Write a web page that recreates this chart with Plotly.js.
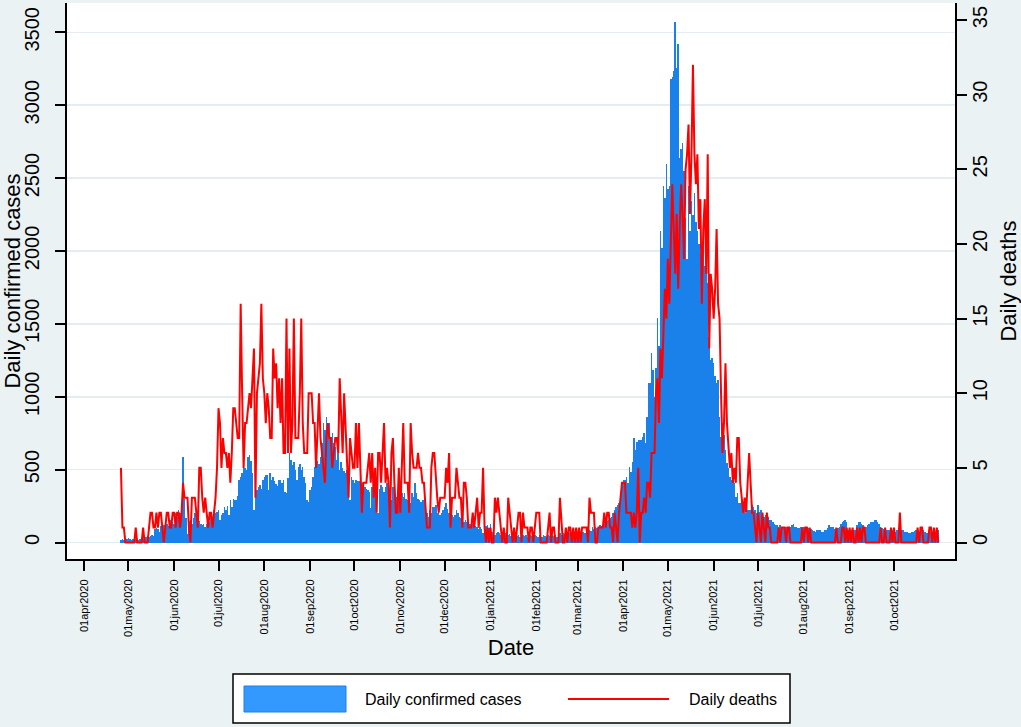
<!DOCTYPE html>
<html>
<head>
<meta charset="utf-8">
<script src="https://cdn.plot.ly/plotly-3.0.1.min.js"></script>
<style>
  html, body { margin: 0; padding: 0; background: rgb(234,242,243); }
  #chart { width: 1021px; height: 727px; }
</style>
</head>
<body>
<div id="chart"></div>
<script>
// ---------------- DATA (daily values, first day 26 Apr 2020) ----------------
const startDate = '2020-04-26';

const casesApr20 = [18,25,20,28,22];
const casesMay20 = [30,25,20,24,18,22,15,20,25,18,22,40,35,45,38,42,50,45,95,100,90,75,110,100,120,125,130,110,97,155,140];
const casesJun20 = [130,200,177,223,200,225,584,300,165,60,150,155,130,165,200,155,130,150,130,120,130,107,130,155,143,200,177,223,200,210];
const casesJul20 = [223,155,190,200,245,225,250,190,290,245,300,290,290,320,430,450,475,520,510,500,590,600,560,475,223,430,360,380,395,370,430];
const casesAug20 = [450,460,460,360,475,430,450,420,400,385,430,430,405,430,350,340,440,612,565,530,550,500,430,520,540,500,515,450,405,290,280];
const casesSep20 = [360,383,450,520,635,560,540,590,680,818,772,863,795,818,726,750,680,658,565,612,500,555,510,490,480,500,475,290,450,430];
const casesOct20 = [405,430,425,420,383,405,360,383,370,360,350,235,380,360,340,326,200,370,395,383,350,380,405,350,310,290,383,360,315,290,325];
const casesNov20 = [300,340,315,340,300,290,270,270,340,315,405,340,300,290,280,290,290,223,200,177,223,200,245,245,255,200,223,190,200,223];
const casesDec20 = [245,270,230,200,177,190,177,190,220,200,177,165,177,140,154,140,130,130,140,130,130,110,107,96,107,96,63,85,110,120,100];
const casesJan21 = [130,73,62,50,62,73,62,50,62,73,62,55,50,60,45,55,50,62,45,50,40,55,50,45,50,40,55,50,45,40,50];
const casesFeb21 = [45,40,50,45,40,50,45,40,50,45,40,50,45,50,40,55,62,50,62,60,73,62,62,73,62,73,62,62];
const casesMar21 = [73,62,73,70,73,62,73,73,85,80,108,95,108,100,107,120,115,120,125,130,150,155,165,177,200,220,245,255,270,290,405];
const casesApr21 = [430,430,450,405,520,485,555,714,635,690,700,700,700,725,750,680,864,1093,1093,1300,1185,1000,1200,1540,1345,2137,2022,2445,2365,2595];
const casesMay21 = [2423,2445,3178,3190,3236,3568,3258,3419,2641,2700,2743,2549,2228,1942,2445,2137,2343,2250,2400,2200,2137,2045,1976,1885,2100,1900,2050,1780,1410,1253,1265];
const casesJun21 = [1230,1140,1095,1115,864,725,818,738,635,543,510,452,430,430,405,315,338,270,270,315,235,245,200,223,223,223,257,245,223,200];
const casesJul21 = [257,210,223,200,177,190,154,177,155,154,143,130,120,120,108,120,108,108,108,108,97,97,108,120,130,108,108,97,97,108,108];
const casesAug21 = [108,108,108,97,97,90,85,80,75,85,85,85,75,75,85,85,100,120,108,108,108,95,85,100,108,130,143,150,155,140,85];
const casesSep21 = [85,85,85,85,85,120,143,143,130,120,108,108,120,130,140,143,143,155,155,140,130,108,97,90,85,85,85,85,85,85];
const casesOct21 = [80,75,85,97,97,85,85,75,75,70,63,63,75,75,80,85,75,63,63,85,85,70,63,63,75,75,75,80,75,85,85];

const deathsApr20 = [5,1,1,0,0];
const deathsMay20 = [0,0,0,0,0,1,0,0,0,0,1,0,0,0,1,2,2,1,1,2,1,2,2,1,0,1,2,2,1,1,2];
const deathsJun20 = [2,1,2,2,1,2,4,3,3,3,1,0,3,3,3,2,1,5,5,3,2,3,2,1,2,2,1,2,3,5];
const deathsJul20 = [9,8,5,7,6,6,5,6,4,6,9,9,8,7,7,16,10,5,8,8,9,10,9,11,13,3,10,11,12,16,11];
const deathsAug20 = [10,8,10,9,7,7,13,11,12,9,11,8,11,6,6,15,6,13,6,8,15,7,7,7,10,15,8,6,6,6,10];
const deathsSep20 = [10,10,8,8,5,7,10,7,6,5,4,7,8,7,7,5,6,7,7,6,11,8,6,10,8,5,3,7,6,5];
const deathsOct20 = [5,8,5,8,5,2,4,4,4,5,6,4,6,3,5,2,6,6,4,6,8,4,5,4,1,6,7,4,2,2,5];
const deathsNov20 = [2,5,8,4,4,4,2,8,6,5,5,5,6,5,5,4,4,2,1,1,1,5,6,6,4,3,2,3,3,3];
const deathsDec20 = [3,5,4,6,1,3,3,3,5,4,3,3,1,4,4,3,1,1,1,2,1,2,3,1,2,2,5,1,0,1,0];
const deathsJan21 = [1,0,0,3,2,3,2,1,0,1,0,0,3,2,1,0,1,0,1,2,2,0,2,1,1,1,0,1,1,0,1];
const deathsFeb21 = [2,2,2,0,0,0,0,0,1,2,0,1,1,0,0,0,3,1,0,0,1,0,1,1,0,1,0,1];
const deathsMar21 = [0,1,0,1,1,1,1,0,3,2,2,2,0,0,1,1,1,1,2,1,2,2,1,1,0,2,1,0,2,3,4];
const deathsApr21 = [4,4,2,2,2,2,1,2,1,2,5,0,2,2,3,2,4,4,3,6,6,6,10,11,8,13,11,14,17,15];
const deathsMay21 = [19,16,20,24,21,18,22,17,21,24,22,19,25,26,28,22,26,32,26,24,26,21,23,16,21,23,18,26,13,18,17];
const deathsJun21 = [15,17,21,16,15,10,6,8,12,8,6,5,6,4,5,4,7,7,4,3,2,3,2,4,6,4,2,2,1,0];
const deathsJul21 = [2,1,0,2,1,0,2,1,1,0,0,0,0,0,1,0,1,1,1,0,1,1,0,0,0,0,0,0,0,0,1];
const deathsAug21 = [0,1,1,0,1,0,0,0,0,0,0,0,0,0,0,0,0,0,0,0,0,0,1,0,0,0,1,1,0,1,0];
const deathsSep21 = [1,0,1,0,0,1,0,1,0,1,1,0,0,0,0,0,0,0,0,0,0,1,0,0,1,0,0,0,1,0];
const deathsOct21 = [1,0,0,0,2,0,0,0,0,0,0,0,0,0,0,0,1,0,1,1,0,0,0,0,1,1,0,1,0,1,0];

const xTickVals = ['2020-04-01','2020-05-01','2020-06-01','2020-07-01','2020-08-01','2020-09-01','2020-10-01','2020-11-01','2020-12-01',
  '2021-01-01','2021-02-01','2021-03-01','2021-04-01','2021-05-01','2021-06-01','2021-07-01','2021-08-01','2021-09-01','2021-10-01'];
const xTickText = ['01apr2020','01may2020','01jun2020','01jul2020','01aug2020','01sep2020','01oct2020','01nov2020','01dec2020',
  '01jan2021','01feb2021','01mar2021','01apr2021','01may2021','01jun2021','01jul2021','01aug2021','01sep2021','01oct2021'];
const yTickVals = [0,500,1000,1500,2000,2500,3000,3500];
const y2TickVals = [0,5,10,15,20,25,30,35];

const seriesNames = ['Daily confirmed cases', 'Daily deaths'];
const axisTitles = {x: 'Date', y: 'Daily confirmed cases', y2: 'Daily deaths'};

// ---------------- BUILD ----------------
const cases = [].concat(casesApr20,casesMay20,casesJun20,casesJul20,casesAug20,casesSep20,casesOct20,casesNov20,casesDec20,
  casesJan21,casesFeb21,casesMar21,casesApr21,casesMay21,casesJun21,casesJul21,casesAug21,casesSep21,casesOct21);
const deaths = [].concat(deathsApr20,deathsMay20,deathsJun20,deathsJul20,deathsAug20,deathsSep20,deathsOct20,deathsNov20,deathsDec20,
  deathsJan21,deathsFeb21,deathsMar21,deathsApr21,deathsMay21,deathsJun21,deathsJul21,deathsAug21,deathsSep21,deathsOct21);

const dates = [];
{
  const p = startDate.split('-').map(Number);
  for (let i = 0; i < cases.length; i++) {
    const d = new Date(Date.UTC(p[0], p[1]-1, p[2] + i));
    dates.push(d.toISOString().slice(0,10));
  }
}

const W = 1021, H = 727;
const L = 67, R = 955, T = 3, B = 559;
const px = X => (X - L) / (R - L);
const py = Y => (B - Y) / (B - T);

const FONT = 'Liberation Sans, Arial, Helvetica, sans-serif';
const BLUE = '#1a80ea';
const RED = '#ff0000';

const traces = [
  {
    type: 'bar', x: dates, y: cases, name: seriesNames[0],
    marker: {color: BLUE, line: {width: 0}},
    hoverinfo: 'x+y', showlegend: false
  },
  {
    type: 'scatter', mode: 'lines', x: dates, y: deaths, name: seriesNames[1], yaxis: 'y2',
    line: {color: RED, width: 2}, showlegend: false
  }
];

const layout = {
  width: W, height: H,
  margin: {l: L, r: W - R, t: T, b: H - B, pad: 0},
  paper_bgcolor: 'rgb(234,242,243)',
  plot_bgcolor: '#ffffff',
  font: {family: FONT, color: '#000000'},
  bargap: 0,
  showlegend: false,
  xaxis: {
    type: 'date',
    range: ['2020-03-20 12:00', '2021-11-11 07:00'],
    tickmode: 'array', tickvals: xTickVals, ticktext: xTickText,
    tickangle: -90, tickfont: {size: 11, family: FONT, color: '#000'},
    ticks: 'outside', ticklen: 10, tickwidth: 2, tickcolor: '#000',
    ticklabelstandoff: 4,
    showline: true, linecolor: '#000', linewidth: 2,
    showgrid: false, zeroline: false, automargin: false,
    title: {text: axisTitles.x, font: {size: 22, family: FONT, color: '#000'}, standoff: 4}
  },
  yaxis: {
    range: [-113, 3701],
    tickmode: 'array', tickvals: yTickVals,
    tickangle: -90, tickfont: {size: 20, family: FONT, color: '#000'},
    ticks: 'outside', ticklen: 10, tickwidth: 2, tickcolor: '#000',
    ticklabelstandoff: 8,
    showline: true, linecolor: '#000', linewidth: 2,
    showgrid: true, gridcolor: 'rgb(228,237,241)', gridwidth: 1.5,
    zeroline: false, automargin: false,
    title: {text: axisTitles.y, font: {size: 22, family: FONT, color: '#000'}, standoff: 4}
  },
  yaxis2: {
    overlaying: 'y', side: 'right',
    range: [-1.105, 36.14],
    tickmode: 'array', tickvals: y2TickVals,
    tickangle: -90, tickfont: {size: 20, family: FONT, color: '#000'},
    ticks: 'outside', ticklen: 10, tickwidth: 2, tickcolor: '#000',
    ticklabelstandoff: -4,
    showline: true, linecolor: '#000', linewidth: 2,
    showgrid: false, zeroline: false, automargin: false,
    title: {text: axisTitles.y2, font: {size: 22, family: FONT, color: '#000'}, standoff: 14}
  },
  shapes: [
    // legend frame
    {type: 'rect', xref: 'paper', yref: 'paper', x0: px(233), x1: px(790), y0: py(674), y1: py(723),
      fillcolor: '#ffffff', line: {color: '#000', width: 1.5}, layer: 'above'},
    // legend key: bars
    {type: 'rect', xref: 'paper', yref: 'paper', x0: px(244), x1: px(346), y0: py(686), y1: py(712),
      fillcolor: '#3399ff', line: {color: '#1f7fe6', width: 1}, layer: 'above'},
    // legend key: line
    {type: 'line', xref: 'paper', yref: 'paper', x0: px(568), x1: px(669), y0: py(699), y1: py(699),
      line: {color: RED, width: 2}, layer: 'above'}
  ],
  annotations: [
    {xref: 'paper', yref: 'paper', x: px(363), y: py(699), xanchor: 'left', yanchor: 'middle',
      text: seriesNames[0], showarrow: false, font: {size: 16, family: FONT, color: '#000'}},
    {xref: 'paper', yref: 'paper', x: px(687), y: py(699), xanchor: 'left', yanchor: 'middle',
      text: seriesNames[1], showarrow: false, font: {size: 16, family: FONT, color: '#000'}}
  ]
};

Plotly.newPlot('chart', traces, layout, {displayModeBar: false, staticPlot: true});
</script>
</body>
</html>
